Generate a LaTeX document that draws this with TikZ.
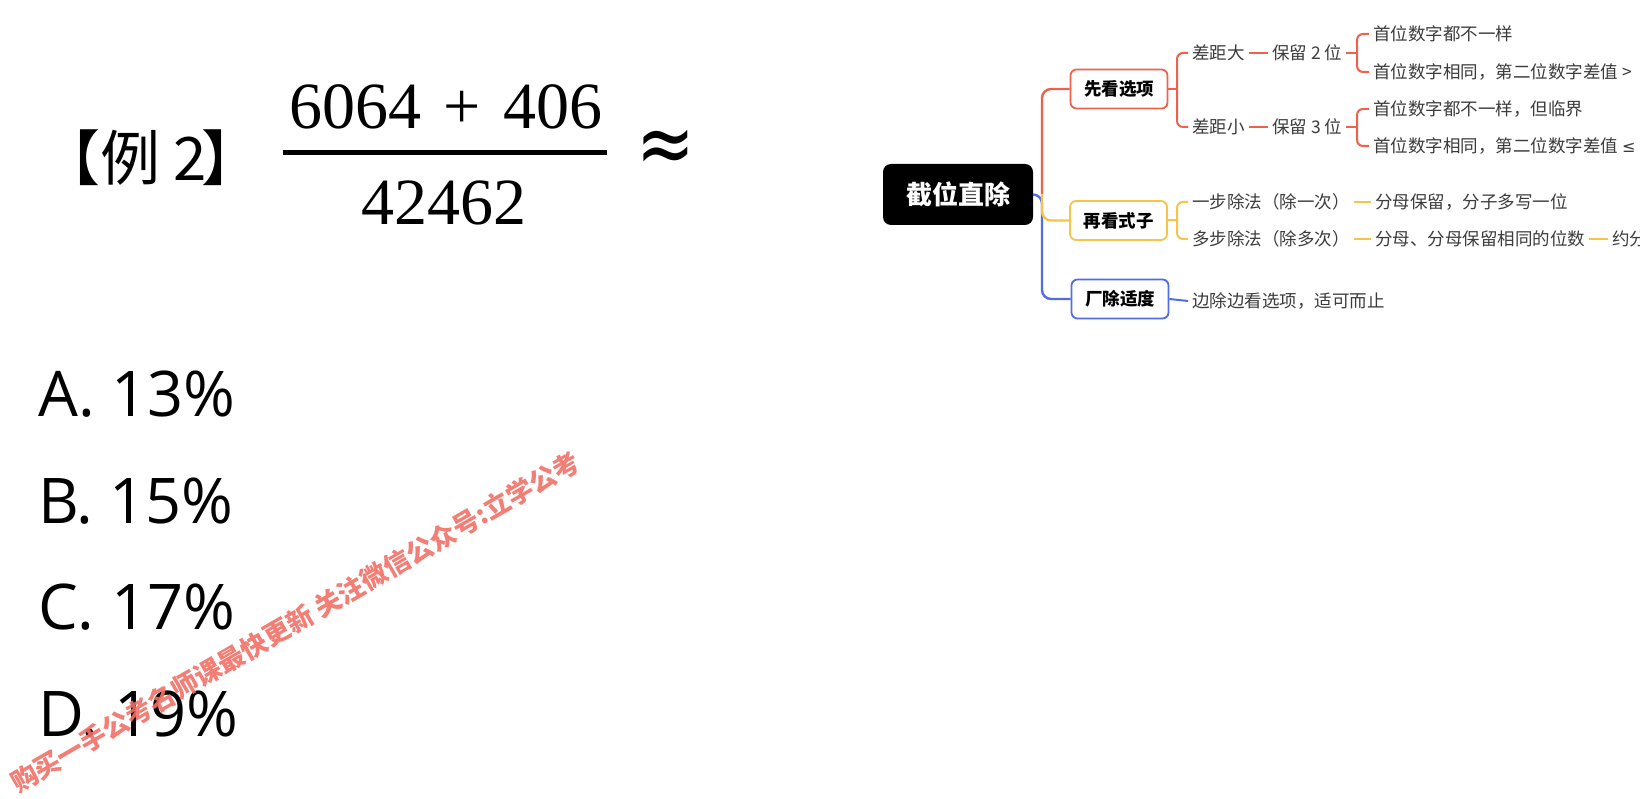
\documentclass[tikz,border=0pt]{standalone}
\usepackage{graphicx}
\usepackage{fontspec}
\setmainfont{Open Sans}
\newfontfamily\cjk{Noto Sans CJK SC}
\newfontfamily\numserif{Liberation Serif}
\newfontfamily\symfont{DejaVu Sans}
\definecolor{mmred}{RGB}{238,98,75}
\definecolor{mmyel}{RGB}{246,196,72}
\definecolor{mmblue}{RGB}{82,108,228}
\definecolor{mmtext}{RGB}{60,60,60}
\definecolor{wmark}{RGB}{242,112,102}
\begin{document}
\begin{tikzpicture}[x=1pt,y=-1pt,
  opt/.style={anchor=west,inner sep=0pt,font=\fontsize{63}{63}\selectfont},
  leaf/.style={anchor=west,inner xsep=4pt,inner ysep=0pt,text=mmtext,font=\cjk\fontsize{17.5}{18}\selectfont},
  topic/.style={draw,line width=1.8pt,rounded corners=6pt,fill=white,minimum width=97pt,minimum height=39pt,inner sep=0pt,font=\cjk\bfseries\fontsize{17.5}{18}\selectfont},
  branch/.style={line width=2.4pt,rounded corners=9pt},
  bracket/.style={line width=2pt,rounded corners=6pt},
  joiner/.style={line width=2pt}]
\useasboundingbox (0,0) rectangle (1640,799);
\fill[white] (0,0) rectangle (1640,799);
\clip (0,0) rectangle (1640,799);

% ---------- left: problem ----------
\node[anchor=west,inner sep=0pt,font=\cjk\fontsize{60}{60}\selectfont] (ex) at (40,158) {【例 2\hspace{-5pt}】};
\node[inner sep=0pt,font=\numserif\fontsize{66}{66}\selectfont] (num) at (446,107) {6064\hspace{22pt}+\hspace{22pt}406};
\node[inner sep=0pt,font=\numserif\fontsize{66}{66}\selectfont] (den) at (444,203) {42462};
\coordinate (fl) at (283,153);
\coordinate (fr) at (607,153);
\draw[line width=5pt] (fl) -- (fr);
\node[inner sep=0pt,font=\symfont\fontsize{70}{70}\selectfont] (approx) at (665.5,152) {\scalebox{1}[1.25]{≈}};

\node[opt] (A) at (38,394.5) {A. 13\%};
\node[opt] (B) at (38,501) {B. 15\%};
\node[opt] (C) at (38,607.5) {C. 17\%};
\node[opt] (D) at (38,714) {D. 19\%};

% ---------- right: mind map ----------
\node[fill=black,rounded corners=8pt,minimum width=150pt,minimum height=61pt,inner sep=0pt,
      text=white,font=\cjk\bfseries\fontsize{26}{26}\selectfont] (root) at (958,194.5) {截位直除};

\node[topic,draw=mmred] (t1) at (1119,89) {先看选项};
\node[topic,draw=mmyel] (t2) at (1118.5,220.5) {再看式子};
\node[topic,draw=mmblue] (t3) at (1120,299) {厂除适度};

\coordinate (hub) at (1042,194.5);
\draw[branch,mmblue] (root.east) -- (hub) |- (t3.west);
\draw[branch,mmred] (hub) |- (t1.west);
\draw[branch,mmyel] (hub) |- (t2.west);

% red sub-branches
\coordinate (k1) at (1177,89);
\node[leaf] (a1) at (1188,53) {差距大};
\node[leaf] (a2) at (1188,127) {差距小};
\draw[joiner,mmred] (t1.east) -- (k1);
\draw[bracket,mmred] (a1.west) -| (k1) |- (a2.west);

\node[leaf] (p1) at (1268,53) {保留 2 位};
\node[leaf] (p2) at (1268,127) {保留 3 位};
\draw[joiner,mmred] (a1.east) -- (p1.west);
\draw[joiner,mmred] (a2.east) -- (p2.west);

\coordinate (k11) at (1357,53);
\coordinate (k12) at (1357,127);
\node[leaf] (q11) at (1369,34) {首位数字都不一样};
\node[leaf] (q12) at (1369,72) {首位数字相同，第二位数字差值 >};
\node[leaf] (q21) at (1369,109) {首位数字都不一样，但临界};
\node[leaf] (q22) at (1369,146) {首位数字相同，第二位数字差值 {\symfont\fontsize{16}{18}\selectfont ≤}};
\draw[joiner,mmred] (p1.east) -- (k11);
\draw[joiner,mmred] (p2.east) -- (k12);
\draw[bracket,mmred] (q11.west) -| (k11) |- (q12.west);
\draw[bracket,mmred] (q21.west) -| (k12) |- (q22.west);

% yellow sub-branches
\coordinate (k2) at (1177,220.5);
\node[leaf] (y1) at (1188,202) {一步除法（除一次）};
\node[leaf] (y2) at (1188,239) {多步除法（除多次）};
\draw[joiner,mmyel] (t2.east) -- (k2);
\draw[bracket,mmyel] (y1.west) -| (k2) |- (y2.west);
\node[leaf] (y1b) at (1371,202) {分母保留，分子多写一位};
\node[leaf] (y2b) at (1371,239) {分母、分母保留相同的位数};
\node[leaf] (y2c) at (1608,239) {约分};
\draw[joiner,mmyel] (y1.east) -- (y1b.west);
\draw[joiner,mmyel] (y2.east) -- (y2b.west);
\draw[joiner,mmyel] (y2b.east) -- (y2c.west);

% blue sub-branch
\node[leaf] (z1) at (1188,301) {边除边看选项，适可而止};
\draw[joiner,mmblue] (t3.east) -- (z1.west);

% ---------- watermark ----------
\node[rotate=30,inner sep=0pt,text=wmark,opacity=0.9,font=\cjk\bfseries\fontsize{26.5}{27}\selectfont] (wm) at (295,622)
  {购买一手公考名师课最快更新 关注微信公众号:立学公考};
\end{tikzpicture}
\end{document}
